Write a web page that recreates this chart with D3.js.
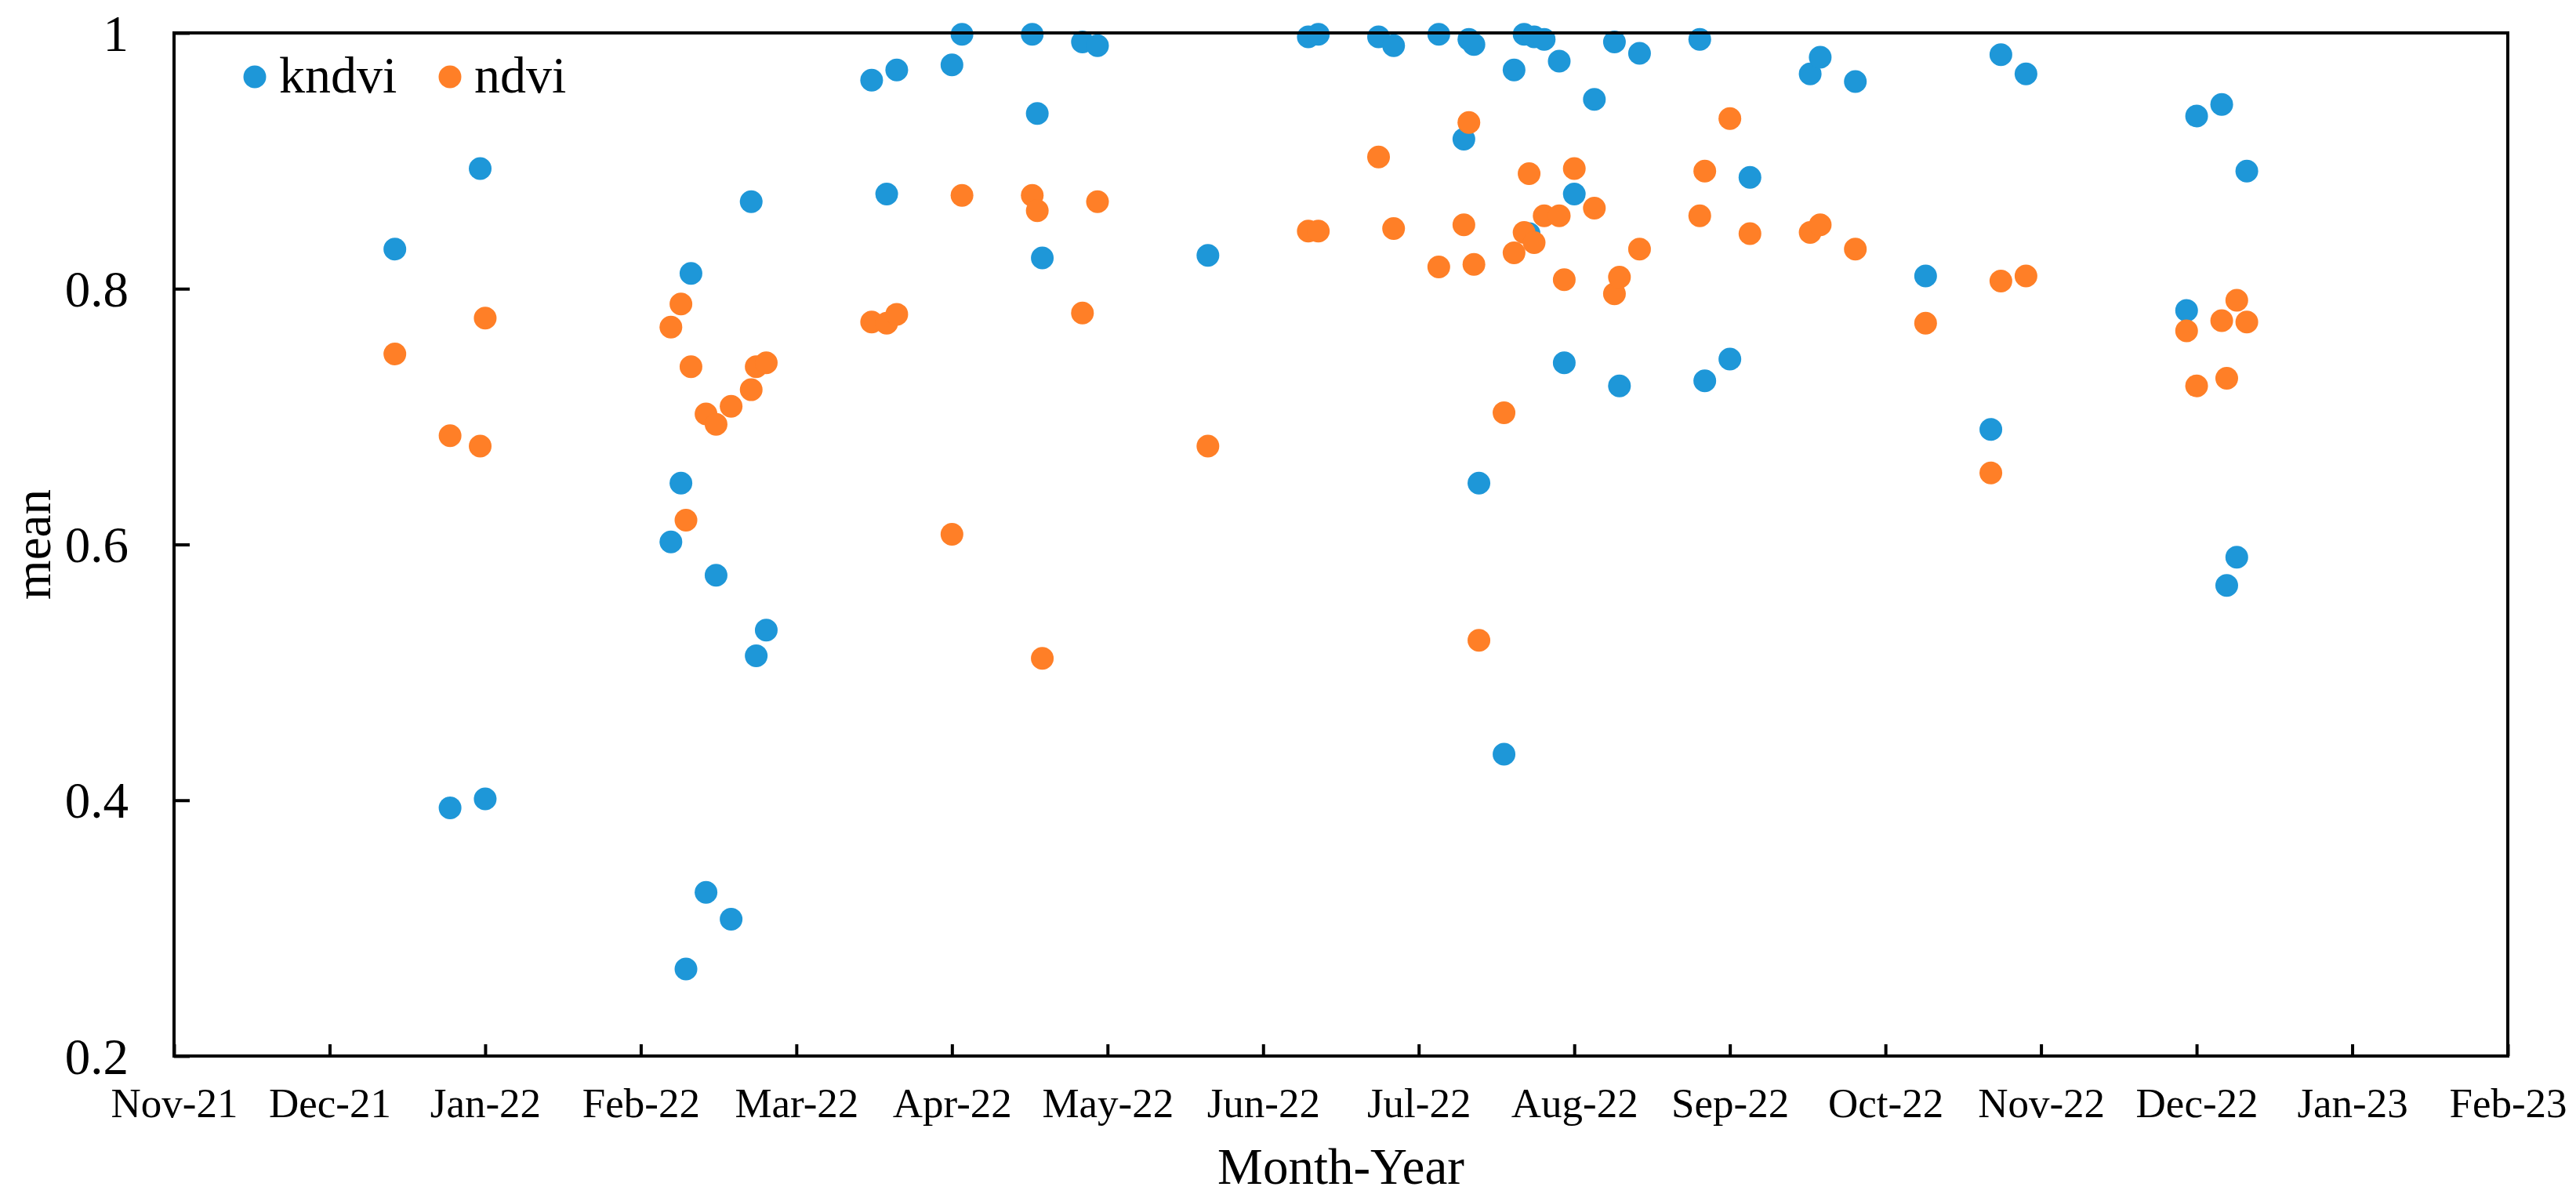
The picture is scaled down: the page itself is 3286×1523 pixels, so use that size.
<!DOCTYPE html>
<html>
<head>
<meta charset="utf-8">
<script src="https://cdn.jsdelivr.net/npm/d3@7"></script>
<style>
  body { margin: 0; background: #fff; }
  text { font-family: "Liberation Serif", "Times New Roman", serif; fill: #000; }
</style>
</head>
<body>
<script>
const width = 3286;
const height = 1523;

// acquisition dates and mean values
const dates = [
  "2021-12-15", "2021-12-26", "2022-01-01", "2022-01-02",
  "2022-02-08", "2022-02-10", "2022-02-11", "2022-02-12", "2022-02-15", "2022-02-17",
  "2022-02-20", "2022-02-24", "2022-02-25", "2022-02-27",
  "2022-03-20", "2022-03-23", "2022-03-25",
  "2022-04-05", "2022-04-07", "2022-04-21", "2022-04-22", "2022-04-23",
  "2022-05-01", "2022-05-04", "2022-05-26",
  "2022-06-15", "2022-06-17", "2022-06-29", "2022-07-02",
  "2022-07-11", "2022-07-16", "2022-07-17", "2022-07-18", "2022-07-19", "2022-07-24",
  "2022-07-26", "2022-07-28", "2022-07-29", "2022-07-30",
  "2022-08-01", "2022-08-04", "2022-08-05", "2022-08-07", "2022-08-11", "2022-08-15",
  "2022-08-16", "2022-08-20",
  "2022-09-01", "2022-09-02", "2022-09-07", "2022-09-11", "2022-09-23", "2022-09-25",
  "2022-10-02", "2022-10-16", "2022-10-29", "2022-10-31", "2022-11-05",
  "2022-12-07", "2022-12-09", "2022-12-14", "2022-12-15", "2022-12-17", "2022-12-19"
];

const kndvi = [
  0.831, 0.394, 0.894, 0.401,
  0.602, 0.648, 0.268, 0.812, 0.328, 0.576,
  0.307, 0.868, 0.513, 0.533,
  0.963, 0.874, 0.971,
  0.975, 0.999, 0.999, 0.937, 0.824,
  0.993, 0.990, 0.826,
  0.997, 0.999, 0.997, 0.990,
  0.999, 0.917, 0.995, 0.991, 0.648, 0.436,
  0.971, 0.999, 0.843, 0.997,
  0.995, 0.978, 0.742, 0.874, 0.948, 0.993,
  0.724, 0.984,
  0.995, 0.728, 0.745, 0.887, 0.968, 0.981,
  0.962, 0.810, 0.690, 0.983, 0.968,
  0.783, 0.935, 0.944, 0.568, 0.590, 0.892
];

const ndvi = [
  0.749, 0.685, 0.677, 0.777,
  0.770, 0.788, 0.619, 0.739, 0.702, 0.694,
  0.708, 0.721, 0.739, 0.742,
  0.774, 0.773, 0.780,
  0.608, 0.873, 0.873, 0.861, 0.511,
  0.781, 0.868, 0.677,
  0.845, 0.845, 0.903, 0.847,
  0.817, 0.850, 0.930, 0.819, 0.525, 0.703,
  0.828, 0.844, 0.890, 0.836,
  0.857, 0.857, 0.807, 0.894, 0.863, 0.796,
  0.809, 0.831,
  0.857, 0.892, 0.933, 0.843, 0.844, 0.850,
  0.831, 0.773, 0.656, 0.806, 0.810,
  0.767, 0.724, 0.775, 0.730, 0.791, 0.774
];

const seriesNames = ["kndvi", "ndvi"];
const seriesColors = ["#1e97d8", "#ff7f27"];

const tickLabels = ["Nov-21", "Dec-21", "Jan-22", "Feb-22", "Mar-22", "Apr-22", "May-22", "Jun-22",
  "Jul-22", "Aug-22", "Sep-22", "Oct-22", "Nov-22", "Dec-22", "Jan-23", "Feb-23"];
const yTicks = [0.2, 0.4, 0.6, 0.8, 1];

const plotLeft = 222, plotRight = 3199, plotTop = 42, plotBottom = 1347;

const parse = d3.utcParse("%Y-%m-%d");
const xStart = parse("2021-11-01");
// axis steps of 31 days, like the spreadsheet it came from
const tickDates = tickLabels.map((d, i) => d3.utcDay.offset(xStart, 31 * i));

const x = d3.scaleUtc()
  .domain([xStart, tickDates[tickDates.length - 1]])
  .range([plotLeft, plotRight]);
const y = d3.scaleLinear()
  .domain([0.2, 1])
  .range([plotBottom, plotTop]);

const svg = d3.select("body").append("svg")
  .attr("width", width)
  .attr("height", height);

// x axis
const xAxis = svg.append("g")
  .attr("transform", `translate(0,${plotBottom})`)
  .call(d3.axisBottom(x)
    .tickValues(tickDates)
    .tickFormat((d, i) => tickLabels[i])
    .tickSizeInner(-15)
    .tickSizeOuter(0)
    .tickPadding(40));
xAxis.select(".domain").remove();
xAxis.selectAll(".tick line").attr("stroke", "#000").attr("stroke-width", 4);
xAxis.selectAll(".tick text").style("font-size", "53px");

// y axis
const yAxis = svg.append("g")
  .attr("transform", `translate(${plotLeft},0)`)
  .call(d3.axisLeft(y)
    .tickValues(yTicks)
    .tickFormat(d3.format("~g"))
    .tickSizeInner(-20)
    .tickSizeOuter(0)
    .tickPadding(58));
yAxis.select(".domain").remove();
yAxis.selectAll(".tick line").attr("stroke", "#000").attr("stroke-width", 4);
yAxis.selectAll(".tick text").style("font-size", "65px").attr("dy", "0.34em");

// points
const series = [kndvi, ndvi];
series.forEach(function(vals, s) {
  svg.append("g").selectAll("circle")
    .data(vals)
    .enter().append("circle")
    .attr("cx", (d, i) => x(parse(dates[i])))
    .attr("cy", d => y(d))
    .attr("r", 14.5)
    .attr("fill", seriesColors[s]);
});

// plot frame
svg.append("rect")
  .attr("x", plotLeft)
  .attr("y", plotTop)
  .attr("width", plotRight - plotLeft)
  .attr("height", plotBottom - plotTop)
  .attr("fill", "none")
  .attr("stroke", "#000")
  .attr("stroke-width", 4);

// legend
const legendX = [325, 574];
seriesNames.forEach(function(name, s) {
  svg.append("circle")
    .attr("cx", legendX[s])
    .attr("cy", 98)
    .attr("r", 14.5)
    .attr("fill", seriesColors[s]);
  svg.append("text")
    .attr("x", legendX[s] + 31)
    .attr("y", 118)
    .style("font-size", "66px")
    .text(name);
});

// axis titles
svg.append("text")
  .attr("x", (plotLeft + plotRight) / 2)
  .attr("y", 1510)
  .attr("text-anchor", "middle")
  .style("font-size", "65px")
  .text("Month-Year");

svg.append("text")
  .attr("transform", `translate(64,${(plotTop + plotBottom) / 2}) rotate(-90)`)
  .attr("text-anchor", "middle")
  .style("font-size", "65px")
  .text("mean");
</script>
</body>
</html>
